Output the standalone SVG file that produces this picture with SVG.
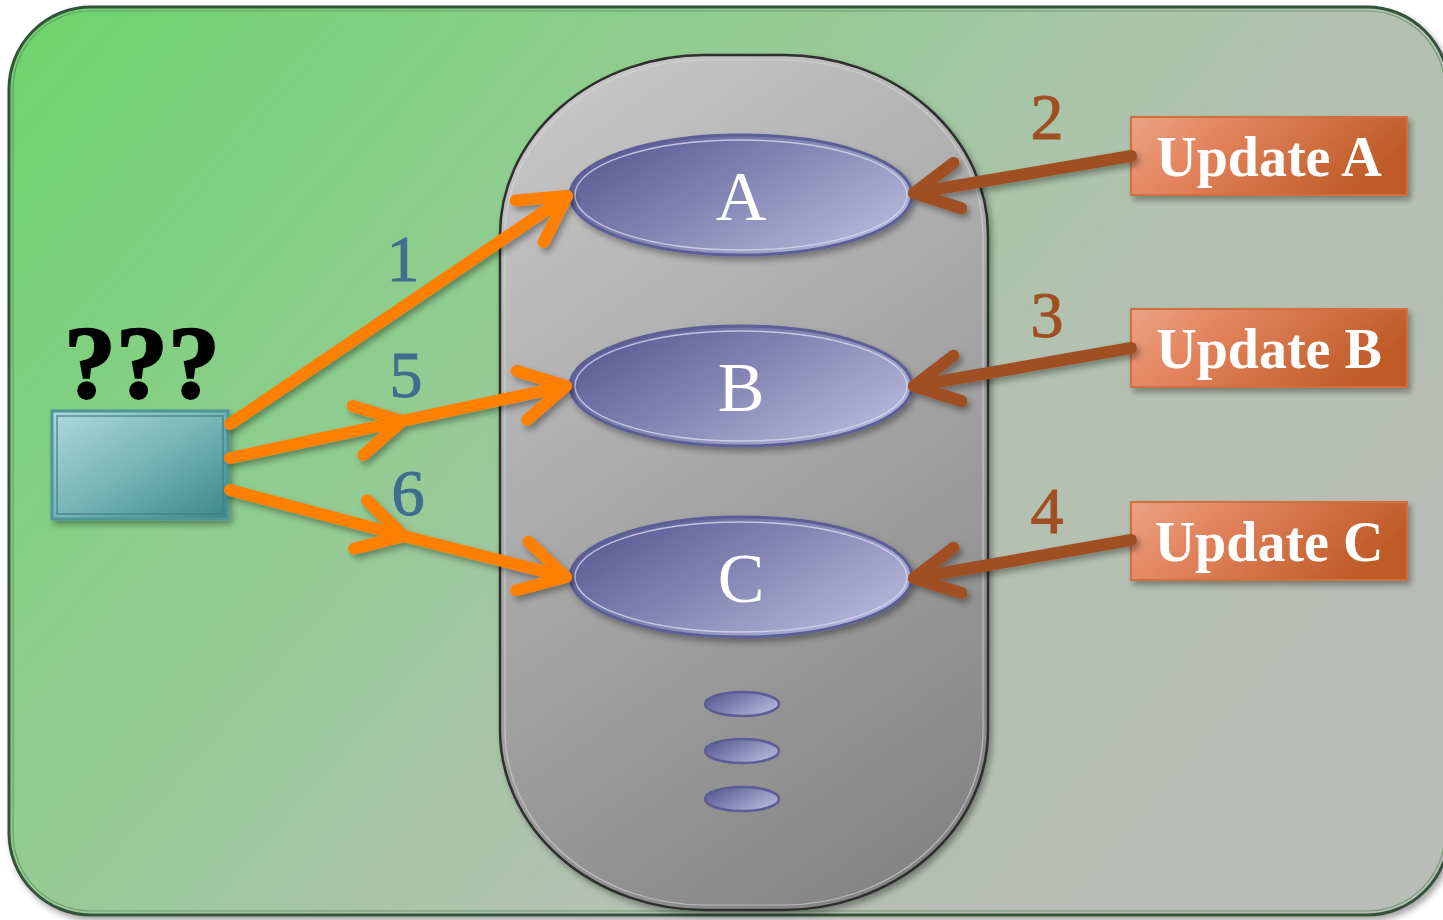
<svg xmlns="http://www.w3.org/2000/svg" width="1443" height="920" viewBox="0 0 1443 920">
  <defs>
    <linearGradient id="bgGrad" x1="0" y1="0" x2="1" y2="0.55">
      <stop offset="0" stop-color="#6cd46c"/>
      <stop offset="0.35" stop-color="#8ecd8e"/>
      <stop offset="0.7" stop-color="#b2c2b0"/>
      <stop offset="1" stop-color="#b9bdb7"/>
    </linearGradient>
    <linearGradient id="cylGrad" x1="0.3" y1="0" x2="0.7" y2="1">
      <stop offset="0" stop-color="#c4c4c4"/>
      <stop offset="1" stop-color="#858585"/>
    </linearGradient>
    <linearGradient id="ellGrad" x1="0" y1="0.2" x2="1" y2="0.8">
      <stop offset="0" stop-color="#565a92"/>
      <stop offset="1" stop-color="#b8badb"/>
    </linearGradient>
    <linearGradient id="boxGrad" x1="0" y1="0" x2="1" y2="1">
      <stop offset="0" stop-color="#acdade"/>
      <stop offset="0.5" stop-color="#77b4b8"/>
      <stop offset="1" stop-color="#3b8789"/>
    </linearGradient>
    <linearGradient id="updGrad" x1="0" y1="0" x2="1" y2="0.3">
      <stop offset="0" stop-color="#eda284"/>
      <stop offset="0.4" stop-color="#e0815a"/>
      <stop offset="1" stop-color="#bf5c28"/>
    </linearGradient>
    <filter id="shadow" x="-10%" y="-10%" width="130%" height="130%">
      <feDropShadow dx="3" dy="4" stdDeviation="3" flood-color="#000" flood-opacity="0.35"/>
    </filter>
    <marker id="headOrange" markerUnits="userSpaceOnUse" viewBox="-60 -35 70 70" refX="0" refY="0" markerWidth="70" markerHeight="70" orient="auto" overflow="visible">
      <path d="M-45,-25 L0,0 L-45,25" fill="none" stroke="#ff8000" stroke-width="12" stroke-linecap="round" stroke-linejoin="round"/>
    </marker>
    <marker id="headBrown" markerUnits="userSpaceOnUse" viewBox="-60 -35 70 70" refX="0" refY="0" markerWidth="70" markerHeight="70" orient="auto" overflow="visible">
      <path d="M-44,-23 L0,0 L-44,23" fill="none" stroke="#a04f22" stroke-width="12" stroke-linecap="round" stroke-linejoin="round"/>
    </marker>
    <style>
      .ell { fill: url(#ellGrad); stroke: #5b5e96; stroke-width: 3; }
      .ellInner { fill: none; stroke: #d8d9ef; stroke-width: 1.5; opacity: 0.8; }
      .ellLabel { font-family: "Liberation Serif", "DejaVu Serif", serif; font-size: 70px; fill: #ffffff; text-anchor: middle; }
      .orange { fill: none; stroke: #ff8000; stroke-width: 12; stroke-linecap: round; marker-end: url(#headOrange); }
      .brown { fill: none; stroke: #a04f22; stroke-width: 12; stroke-linecap: round; marker-end: url(#headBrown); }
      .numBlue { font-family: "Liberation Serif", "DejaVu Serif", serif; font-size: 66px; fill: #416e8f; text-anchor: middle; stroke: #416e8f; stroke-width: 1; }
      .numBrown { font-family: "Liberation Serif", "DejaVu Serif", serif; font-size: 66px; fill: #a04f22; text-anchor: middle; stroke: #a04f22; stroke-width: 1; }
      .upd { fill: url(#updGrad); stroke: #d0703e; stroke-width: 2; }
      .updLabel { font-family: "Liberation Serif", "DejaVu Serif", serif; font-weight: bold; font-size: 56px; fill: #ffffff; text-anchor: middle; }
      .dot { fill: url(#ellGrad); stroke: #5b5e96; stroke-width: 2.5; }
    </style>
  </defs>

  <!-- background panel -->
  <g id="panel">
    <rect x="9" y="7" width="1440" height="908" rx="82" ry="82" fill="url(#bgGrad)" stroke="#34533a" stroke-width="3" filter="url(#shadow)"/>
    <rect x="13" y="11" width="1432" height="900" rx="78" ry="78" fill="none" stroke="#5f8a5f" stroke-width="1.2" opacity="0.7"/>
  </g>

  <!-- storage cylinder -->
  <g id="store">
    <rect x="500" y="55" width="488" height="855" rx="205" ry="180" fill="url(#cylGrad)" stroke="#2e2e2e" stroke-width="2.5" filter="url(#shadow)"/>
    <rect x="505" y="60" width="478" height="845" rx="200" ry="175" fill="none" stroke="#dcdcdc" stroke-width="1.2" opacity="0.6"/>
  </g>

  <g id="nodeA">
    <ellipse class="ell" cx="741" cy="195" rx="171" ry="60" filter="url(#shadow)"/>
    <ellipse class="ellInner" cx="741" cy="195" rx="166" ry="55"/>
    <text class="ellLabel" x="741" y="220">A</text>
  </g>
  <g id="nodeB">
    <ellipse class="ell" cx="741" cy="386" rx="171" ry="60" filter="url(#shadow)"/>
    <ellipse class="ellInner" cx="741" cy="386" rx="166" ry="55"/>
    <text class="ellLabel" x="741" y="411">B</text>
  </g>
  <g id="nodeC">
    <ellipse class="ell" cx="741" cy="577" rx="171" ry="60" filter="url(#shadow)"/>
    <ellipse class="ellInner" cx="741" cy="577" rx="166" ry="55"/>
    <text class="ellLabel" x="741" y="602">C</text>
  </g>
  <g id="moreNodes">
    <ellipse class="dot" cx="742" cy="704" rx="37" ry="12"/>
    <ellipse class="dot" cx="742" cy="751" rx="37" ry="12"/>
    <ellipse class="dot" cx="742" cy="799" rx="37" ry="12"/>
  </g>

  <!-- client -->
  <g id="client">
    <text x="142" y="398" font-family="Liberation Serif, DejaVu Serif, serif" font-weight="bold" font-size="104" fill="#000" stroke="#000" stroke-width="2" text-anchor="middle">???</text>
    <rect x="52" y="411" width="176" height="108" fill="url(#boxGrad)" stroke="#4f9597" stroke-width="3" filter="url(#shadow)"/>
    <rect x="57" y="416" width="166" height="98" fill="none" stroke="#3f7f82" stroke-width="1.5" opacity="0.8"/>
  </g>

  <!-- update sources -->
  <g id="updateA">
    <rect class="upd" x="1131" y="117" width="276" height="78" filter="url(#shadow)"/>
    <text class="updLabel" x="1269" y="176">Update A</text>
  </g>
  <g id="updateB">
    <rect class="upd" x="1131" y="309" width="276" height="78" filter="url(#shadow)"/>
    <text class="updLabel" x="1269" y="368">Update B</text>
  </g>
  <g id="updateC">
    <rect class="upd" x="1131" y="502" width="276" height="78" filter="url(#shadow)"/>
    <text class="updLabel" x="1269" y="561">Update C</text>
  </g>

  <!-- connectors -->
  <g id="connectors" filter="url(#shadow)">
    <path class="orange" d="M230,424 L567,196"/>
    <path class="orange" d="M230,458 L402,421"/>
    <path class="orange" d="M402,421 L566,386"/>
    <path class="orange" d="M230,490 L404,536"/>
    <path class="orange" d="M404,536 L566,577"/>
    <path class="brown" d="M1131,156 L914,193"/>
    <path class="brown" d="M1131,348 L914,386"/>
    <path class="brown" d="M1131,540 L914,578"/>
  </g>

  <!-- step numbers -->
  <g id="labels">
    <text class="numBlue" x="403" y="281">1</text>
    <text class="numBlue" x="406" y="397">5</text>
    <text class="numBlue" x="408" y="515">6</text>
    <text class="numBrown" x="1047" y="139">2</text>
    <text class="numBrown" x="1047" y="337">3</text>
    <text class="numBrown" x="1047" y="533">4</text>
  </g>
</svg>
